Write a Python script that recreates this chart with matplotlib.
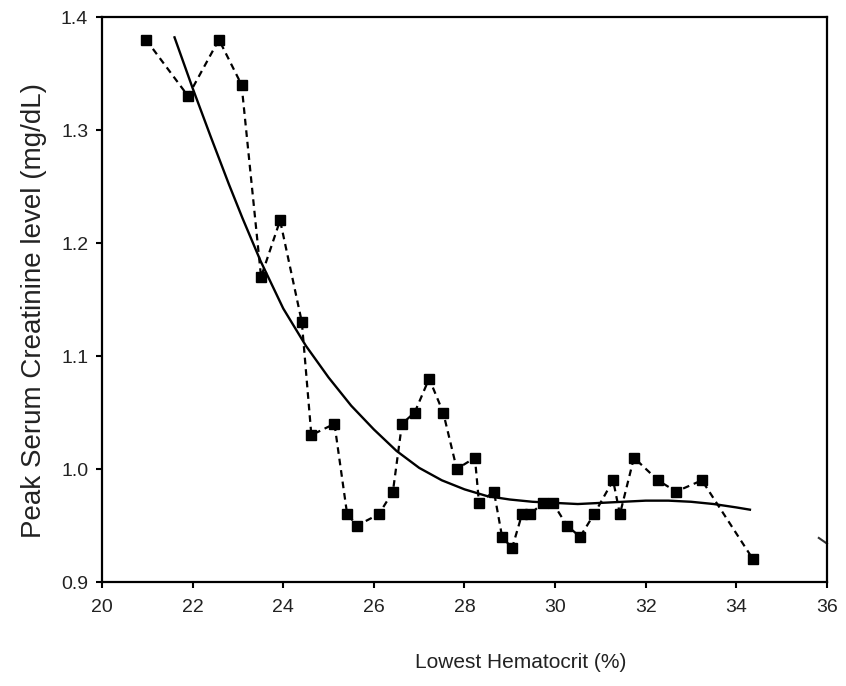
import matplotlib
matplotlib.use("Agg")
import matplotlib.pyplot as plt

# Observed data (dashed line with square markers)
hct = [20.97, 21.9, 22.58, 23.08, 23.51, 23.93, 24.41, 24.62, 25.13, 25.41, 25.63,
       26.11, 26.42, 26.62, 26.9, 27.22, 27.53, 27.83, 28.23, 28.32, 28.65, 28.83,
       29.05, 29.27, 29.45, 29.73, 29.95, 30.26, 30.55, 30.86, 31.28, 31.43, 31.74,
       32.27, 32.67, 33.24, 34.37]
creat = [1.38, 1.33, 1.38, 1.34, 1.17, 1.22, 1.13, 1.03, 1.04, 0.96, 0.95,
         0.96, 0.98, 1.04, 1.05, 1.08, 1.05, 1.00, 1.01, 0.97, 0.98, 0.94,
         0.93, 0.96, 0.96, 0.97, 0.97, 0.95, 0.94, 0.96, 0.99, 0.96, 1.01,
         0.99, 0.98, 0.99, 0.92]

# Smoothed fit curve (solid line)
fit_x = [21.6, 22.0, 22.4, 22.8, 23.1, 23.5, 24.0, 24.5, 25.0, 25.5, 26.0, 26.5, 27.0,
         27.5, 28.0, 28.5, 29.0, 29.5, 30.0, 30.5, 31.0, 31.5, 32.0, 32.5, 33.0,
         33.5, 34.0, 34.3]
fit_y = [1.382, 1.337, 1.294, 1.252, 1.222, 1.184, 1.142, 1.109, 1.081, 1.056, 1.035, 1.016, 1.001,
         0.990, 0.982, 0.976, 0.973, 0.971, 0.970, 0.969, 0.970, 0.971, 0.972, 0.972, 0.971,
         0.969, 0.966, 0.964]

# small stray stroke near the right edge of the plot
stray_x = [35.82, 36.0]
stray_y = [0.939, 0.934]

x_ticks = [20, 22, 24, 26, 28, 30, 32, 34, 36]
y_ticks = [0.9, 1.0, 1.1, 1.2, 1.3, 1.4]
y_tick_labels = ["0.9", "1.0", "1.1", "1.2", "1.3", "1.4"]

plt.rcParams['font.family'] = ['Liberation Sans', 'DejaVu Sans']

fig = plt.figure(figsize=(8.46, 6.86), dpi=100)
ax = fig.add_axes([0.1206, 0.1516, 0.8569, 0.8236])

ax.plot(hct, creat, linestyle=(0, (3, 2.2)), color='black', linewidth=1.6,
        marker='s', markersize=7.5, markerfacecolor='black', markeredgecolor='black')
ax.plot(fit_x, fit_y, color='black', linewidth=1.7, solid_joinstyle='round')
ax.plot(stray_x, stray_y, color='#333333', linewidth=1.5, clip_on=False)

ax.set_xlim(20, 36)
ax.set_ylim(0.9, 1.4)
ax.set_xticks(x_ticks)
ax.set_xticklabels([str(t) for t in x_ticks])
ax.set_yticks(y_ticks)
ax.set_yticklabels(y_tick_labels)

ax.tick_params(axis='both', direction='out', length=4, width=1.5, labelsize=14,
               color='black', labelcolor='#222222')
ax.tick_params(axis='x', pad=8)
ax.tick_params(axis='y', pad=6)

for s in ax.spines.values():
    s.set_linewidth(1.6)
    s.set_color('black')

fig.text(521 / 846, 1 - 663 / 686, "Lowest Hematocrit (%)", fontsize=15,
         color='#222222', ha='center', va='center')
fig.text(34 / 846, 1 - 310 / 686, "Peak Serum Creatinine level (mg/dL)", fontsize=20,
         color='#222222', ha='center', va='center', rotation=90)

fig.savefig("out.png", dpi=100, facecolor='white')
